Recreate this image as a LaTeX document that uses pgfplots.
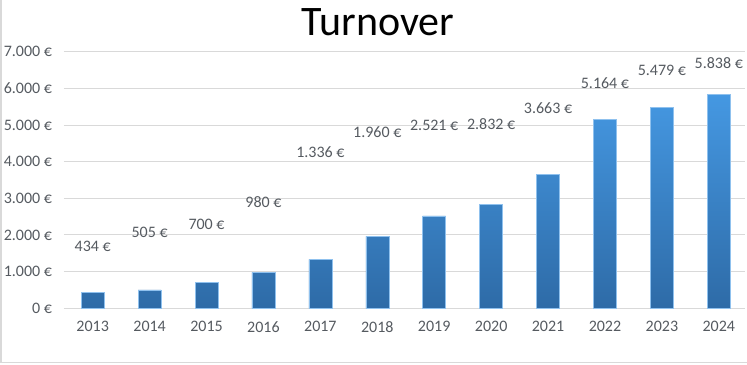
\documentclass[border=0pt]{standalone}
\usepackage{fontspec}
\setmainfont{Carlito}
\usepackage{pgfplots}
\pgfplotsset{compat=1.18}
\definecolor{txt}{HTML}{555A60}
\definecolor{gridc}{HTML}{D9D9D9}
\definecolor{bartop}{HTML}{4598E2}
\definecolor{barbot}{HTML}{2E6BA7}
\begin{document}
\begin{tikzpicture}
\path[use as bounding box] (0bp,0bp) rectangle (747bp,365bp);
\draw[gridc, line width=1.5bp] (0.75bp,365bp) -- (0.75bp,2.5bp) -- (747bp,2.5bp);
\node[font=\fontsize{42bp}{50bp}\selectfont, anchor=base, text=black] at (378bp,329bp) {Turnover};
\begin{axis}[
  at={(64bp,56.7bp)}, anchor=south west,
  scale only axis, width=681bp, height=256.6bp,
  xmin=-0.504, xmax=11.46, ymin=0, ymax=7000,
  enlarge x limits=false,
  xtick={0,...,11},
  xticklabels={2013,2014,2015,2016,2017,2018,2019,2020,2021,2022,2023,2024},
  ytick={0,1000,...,7000},
  yticklabels={0~€,1.000~€,2.000~€,3.000~€,4.000~€,5.000~€,6.000~€,7.000~€},
  ymajorgrids, grid style={gridc, line width=1bp},
  axis line style={draw=none},
  major tick length=0pt,
  tick label style={font=\fontsize{16bp}{19bp}\selectfont, text=txt},
  yticklabel style={xshift=-8.5bp},
  xticklabel style={yshift=-9.5bp},
  clip=false,
]
\addplot[ybar, bar width=23bp, draw=bartop!60, line width=0.5bp, top color=bartop, bottom color=barbot]
  coordinates {(0,434) (1,505) (2,700) (3,980) (4,1336) (5,1960) (6,2521) (7,2832) (8,3663) (9,5164) (10,5479) (11,5838)};
\addplot[only marks, mark=none, nodes near coords, point meta=explicit symbolic,
  nodes near coords style={anchor=center, font=\fontsize{16bp}{19bp}\selectfont, text=txt}]
  table[meta=lab] {
x y lab
0 1680 434~€
1 2073 505~€
2 2291 700~€
3 2900 980~€
4 4264 1.336~€
5 4809 1.960~€
6 5000 2.521~€
7 5019 2.832~€
8 5455 3.663~€
9 6137 5.164~€
10 6500 5.479~€
11 6700 5.838~€
};
\end{axis}
\end{tikzpicture}
\end{document}
